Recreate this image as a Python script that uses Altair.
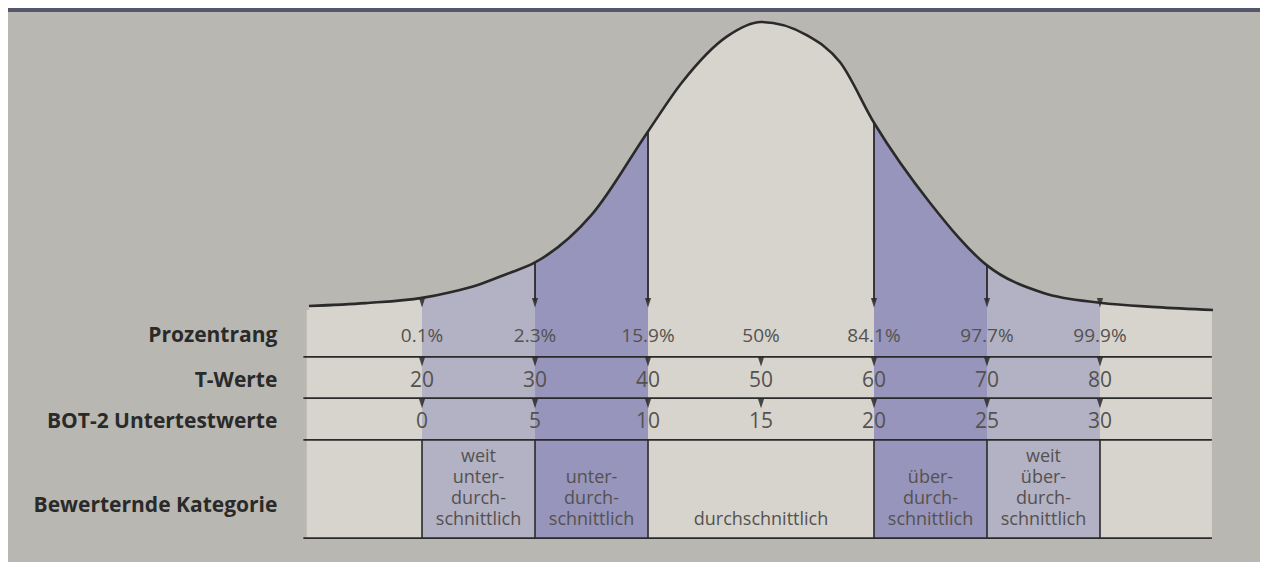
import altair as alt
import pandas as pd

# ---------------- data ----------------
curve_t = [10, 15, 20, 22.5, 25, 27.5, 30, 35, 40, 43, 47, 50, 54, 57, 60, 65, 70, 75, 80, 85, 90]
curve_h = [0.014, 0.024, 0.042, 0.062, 0.088, 0.125, 0.165, 0.33, 0.62, 0.79, 0.95, 1.0,
           0.955, 0.86, 0.65, 0.37, 0.155, 0.059, 0.025, 0.01, 0.0]

t_values = [20, 30, 40, 50, 60, 70, 80]
percent_labels = ["0.1%", "2.3%", "15.9%", "50%", "84.1%", "97.7%", "99.9%"]
bot_values = [0, 5, 10, 15, 20, 25, 30]

arrow_t = [30, 40, 60, 70]                 # long arrows from the curve
curve_ticks_t = [20, 30, 40, 60, 70, 80]   # arrow heads on the table top

shade_from = [20, 30, 60, 70]
shade_to = [30, 40, 70, 80]
shade_tone = ["hell", "dunkel", "dunkel", "hell"]

cat_from = [20, 30, 40, 60, 70]
cat_to = [30, 40, 60, 70, 80]
cat_lines = [
    ["weit", "unter-", "durch-", "schnittlich"],
    ["unter-", "durch-", "schnittlich"],
    ["durchschnittlich"],
    ["über-", "durch-", "schnittlich"],
    ["weit", "über-", "durch-", "schnittlich"],
]
cat_edges = [20, 30, 40, 60, 70, 80]

row_titles = ["Prozentrang", "T-Werte", "BOT-2 Untertestwerte", "Bewerternde Kategorie"]

# ---------------- layout (chart units) ----------------
W, H = 1252, 554
X_DOM = [-16.64, 94.16]
Y_TOP, Y_BOT = 1.0486, -0.875
TABLE_X = (9.8, 89.9)
ROW_LINES = [-0.163, -0.306, -0.451, -0.792]
TABLE_BOTTOM = -0.792
ROW_TEXT_Y = [-0.092, -0.245, -0.39, -0.68]
MARK_Y = [0.03, -0.18, -0.325]
CAT_LAST_LINE_Y = -0.729
CAT_LINE_STEP = 0.0729
TITLE_X = 7.2

BG = "#b9b7b2"
WHITE = "#d7d4ce"
LIGHT = "#b3b1c4"
DARK = "#9795bb"
INK = "#2a2a2a"
TEXT = "#54524f"

xs = alt.Scale(domain=X_DOM, nice=False, zero=False)
ys = alt.Scale(domain=[Y_BOT, Y_TOP], nice=False, zero=False)


def X(field="t"):
    return alt.X(f"{field}:Q", scale=xs, axis=None)


def Y(field="y"):
    return alt.Y(f"{field}:Q", scale=ys, axis=None)


curve = pd.DataFrame({"t": curve_t, "h": curve_h, "top": Y_TOP, "base": 0.0})

# white paper: table + area under the curve
table_paper = alt.Chart(pd.DataFrame({"t": [TABLE_X[0]], "t2": [TABLE_X[1]],
                                      "y": [TABLE_BOTTOM], "y2": [0.0]})).mark_rect(
    color=WHITE).encode(x=X(), x2="t2:Q", y=Y(), y2="y2:Q")

curve_paper = alt.Chart(curve).mark_area(color=WHITE, interpolate="monotone").encode(
    x=X(), y=Y("h"), y2="base:Q")

shades = alt.Chart(pd.DataFrame({"t": shade_from, "t2": shade_to, "tone": shade_tone,
                                 "y": TABLE_BOTTOM, "y2": Y_TOP})).mark_rect().encode(
    x=X(), x2="t2:Q", y=Y(), y2="y2:Q",
    color=alt.Color("tone:N", scale=alt.Scale(domain=["hell", "dunkel"], range=[LIGHT, DARK]),
                    legend=None))

sky = alt.Chart(curve).mark_area(color=BG, interpolate="monotone").encode(
    x=X(), y=Y("h"), y2="top:Q")

line = alt.Chart(curve).mark_line(color=INK, strokeWidth=2.6, interpolate="monotone").encode(
    x=X(), y=Y("h"))

lookup = dict(zip(curve_t, curve_h))
arrows = alt.Chart(pd.DataFrame({"t": arrow_t, "y": [lookup[t] for t in arrow_t],
                                 "y2": MARK_Y[0]})).mark_rule(
    color=INK, strokeWidth=1.8).encode(x=X(), y=Y(), y2="y2:Q")

tri_rows = []
for t in curve_ticks_t:
    tri_rows.append({"t": t, "y": MARK_Y[0] - 0.005})
for t in t_values:
    tri_rows.append({"t": t, "y": MARK_Y[1]})
    tri_rows.append({"t": t, "y": MARK_Y[2]})
heads = alt.Chart(pd.DataFrame(tri_rows)).mark_point(
    shape="M-0.65,-1L0.65,-1L0,1Z", filled=True, color=INK, opacity=0.85, size=90).encode(
    x=X(), y=Y())

hlines = alt.Chart(pd.DataFrame({"y": ROW_LINES, "t": TABLE_X[0] - 0.3, "t2": TABLE_X[1]})).mark_rule(
    color=INK, strokeWidth=1.8).encode(x=X(), x2="t2:Q", y=Y())

vlines = alt.Chart(pd.DataFrame({"t": cat_edges, "y": ROW_LINES[2], "y2": ROW_LINES[3]})).mark_rule(
    color=INK, strokeWidth=1.6).encode(x=X(), y=Y(), y2="y2:Q")

num_style = dict(font="Open Sans", fontSize=21, color=TEXT, align="center", baseline="middle")

pct_text = alt.Chart(pd.DataFrame({"t": t_values, "lab": percent_labels, "y": ROW_TEXT_Y[0]})).mark_text(
    **{**num_style, "fontSize": 19}).encode(x=X(), y=Y(), text="lab:N")
t_text = alt.Chart(pd.DataFrame({"t": t_values, "lab": [str(v) for v in t_values], "y": ROW_TEXT_Y[1]})).mark_text(
    **num_style).encode(x=X(), y=Y(), text="lab:N")
bot_text = alt.Chart(pd.DataFrame({"t": t_values, "lab": [str(v) for v in bot_values], "y": ROW_TEXT_Y[2]})).mark_text(
    **num_style).encode(x=X(), y=Y(), text="lab:N")

cat_rows = []
for a, b, lines in zip(cat_from, cat_to, cat_lines):
    n = len(lines)
    for i, s in enumerate(lines):
        cat_rows.append({"t": (a + b) / 2, "lab": s,
                         "y": CAT_LAST_LINE_Y + (n - 1 - i) * CAT_LINE_STEP})
cat_text = alt.Chart(pd.DataFrame(cat_rows)).mark_text(
    font="Open Sans", fontSize=18, color=TEXT, align="center", baseline="middle").encode(
    x=X(), y=Y(), text="lab:N")

titles = alt.Chart(pd.DataFrame({"lab": row_titles, "y": ROW_TEXT_Y, "t": TITLE_X})).mark_text(
    font="Open Sans", fontSize=21, fontWeight="bold", color=INK, align="right", baseline="middle").encode(
    x=X(), y=Y(), text="lab:N")

edge = alt.Chart(pd.DataFrame({"a": [0]})).mark_rect(color="#54566b").encode(
    x=alt.value(0), x2=alt.value(W), y=alt.value(0), y2=alt.value(4))

chart = alt.layer(table_paper, curve_paper, shades, sky, line, arrows, heads, hlines, vlines,
                  pct_text, t_text, bot_text, cat_text, titles, edge).properties(
    width=W, height=H, padding=0, background=BG,
    autosize=alt.AutoSizeParams(type="none")
).configure_view(strokeWidth=0, fill=BG)

chart.save("out.html", embed_options={"renderer": "svg", "actions": False})
